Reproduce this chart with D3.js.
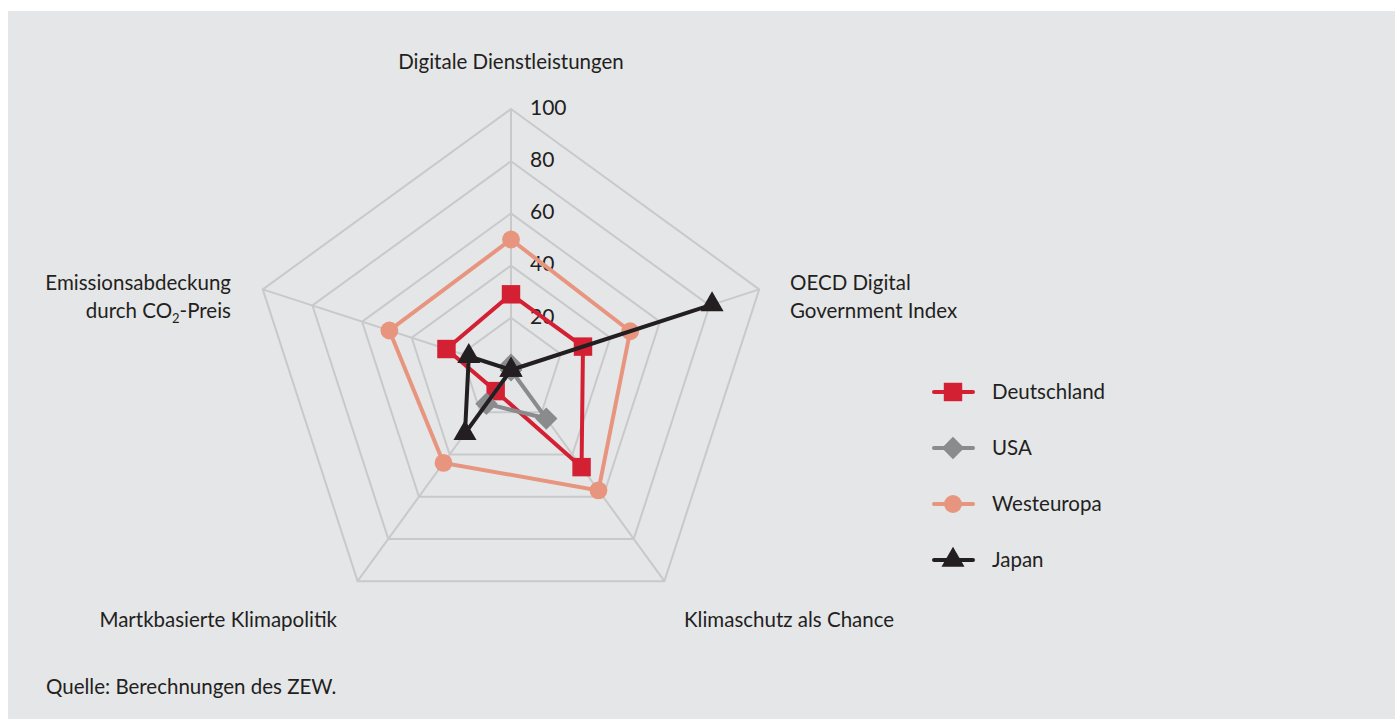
<!DOCTYPE html>
<html><head><meta charset="utf-8">
<script src="https://cdn.jsdelivr.net/npm/d3@7"></script>
<style>
html,body{margin:0;padding:0;background:#fff;}
svg{display:block;font-family:Lato, "Open Sans", sans-serif;}
</style></head>
<body>
<svg id="chart" width="1395" height="720"></svg>
<script>
const axes = ["Digitale Dienstleistungen", "OECD Digital Government Index", "Klimaschutz als Chance", "Martkbasierte Klimapolitik", "Emissionsabdeckung durch CO2-Preis"];
const ticks = [20, 40, 60, 80, 100];
const seriesNames = ["Deutschland", "USA", "Westeuropa", "Japan"];
const deutschland = [29, 29, 46, 10, 26];
const usa = [2, 0, 23, 16, 0];
const westeuropa = [50, 48, 57, 44, 49];
const japan = [0, 81, 0, 30, 17];
const colors = ["#d42033", "#8a8b8d", "#e8957f", "#231f20"];
const symbols = [d3.symbolSquare, d3.symbolSquare, d3.symbolCircle, d3.symbolTriangle];
const rotations = [0, 45, 0, 0];
const markerSize = [340, 250, 250, 230];

const svg = d3.select("#chart");
svg.append("rect").attr("x", 8).attr("y", 11).attr("width", 1387).attr("height", 708).attr("fill", "#e5e6e8");

const cx = 511, cy = 370, R = 261;
const r = d3.scaleLinear().domain([0, 100]).range([0, R]);
const ang = d3.scalePoint().domain(axes).range([0, 2 * Math.PI * (axes.length - 1) / axes.length]);
const pt = (a, v) => [cx + r(v) * Math.sin(ang(a)), cy - r(v) * Math.cos(ang(a))];

const g = svg.append("g");
ticks.forEach(t => {
  g.append("polygon")
    .attr("points", axes.map(a => pt(a, t).join(",")).join(" "))
    .attr("fill", "none").attr("stroke", "#c9c9ca").attr("stroke-width", 2);
});
axes.forEach(a => {
  const [x, y] = pt(a, 100);
  g.append("line").attr("x1", cx).attr("y1", cy).attr("x2", x).attr("y2", y)
    .attr("stroke", "#c9c9ca").attr("stroke-width", 2);
});
ticks.forEach(t => {
  g.append("text").attr("x", cx + 19).attr("y", cy - r(t) + 0.5)
    .attr("dominant-baseline", "middle").attr("font-size", 21).attr("fill", "#231f20").text(t);
});

const FS = 20.5;
const lab = svg.append("g").attr("font-size", FS).attr("fill", "#231f20");
lab.append("text").attr("x", cx).attr("y", 69).attr("text-anchor", "middle").text(axes[0]);
const oecd = lab.append("text").attr("x", 790).attr("y", 290);
oecd.append("tspan").attr("x", 790).text("OECD Digital");
oecd.append("tspan").attr("x", 790).attr("dy", 28).text("Government Index");
lab.append("text").attr("x", 684).attr("y", 627).text(axes[2]);
lab.append("text").attr("x", 337).attr("y", 627).attr("text-anchor", "end").text(axes[3]);
const em = lab.append("text").attr("text-anchor", "end").attr("y", 290);
em.append("tspan").attr("x", 231).text("Emissionsabdeckung");
const l2 = em.append("tspan").attr("x", 231).attr("dy", 28);
l2.append("tspan").text("durch CO");
l2.append("tspan").attr("font-size", 13).attr("dy", 5).text("2");
l2.append("tspan").attr("dy", -5).text("-Preis");

const data = [deutschland, usa, westeuropa, japan];
data.forEach((vals, i) => {
  const pts = axes.map((a, j) => pt(a, vals[j]));
  svg.append("polygon").attr("points", pts.map(p => p.join(",")).join(" "))
    .attr("fill", "none").attr("stroke", colors[i]).attr("stroke-width", 4).attr("stroke-linejoin", "miter");
  pts.forEach(p => {
    svg.append("path").attr("d", d3.symbol().type(symbols[i]).size(markerSize[i])())
      .attr("transform", `translate(${p[0]},${p[1]}) rotate(${rotations[i]})`).attr("fill", colors[i]);
  });
});

const leg = svg.append("g");
seriesNames.forEach((n, i) => {
  const y = 392 + i * 56;
  leg.append("line").attr("x1", 934).attr("x2", 973).attr("y1", y).attr("y2", y)
    .attr("stroke", colors[i]).attr("stroke-width", 4).attr("stroke-linecap", "round");
  leg.append("path").attr("d", d3.symbol().type(symbols[i]).size(markerSize[i])())
    .attr("transform", `translate(953,${y}) rotate(${rotations[i]})`).attr("fill", colors[i]);
  leg.append("text").attr("x", 992).attr("y", y + 2).attr("dominant-baseline", "middle")
    .attr("font-size", FS).attr("fill", "#231f20").text(n);
});

svg.append("text").attr("x", 46).attr("y", 694).attr("font-size", FS).attr("fill", "#231f20")
  .text("Quelle: Berechnungen des ZEW.");
</script>
</body></html>
